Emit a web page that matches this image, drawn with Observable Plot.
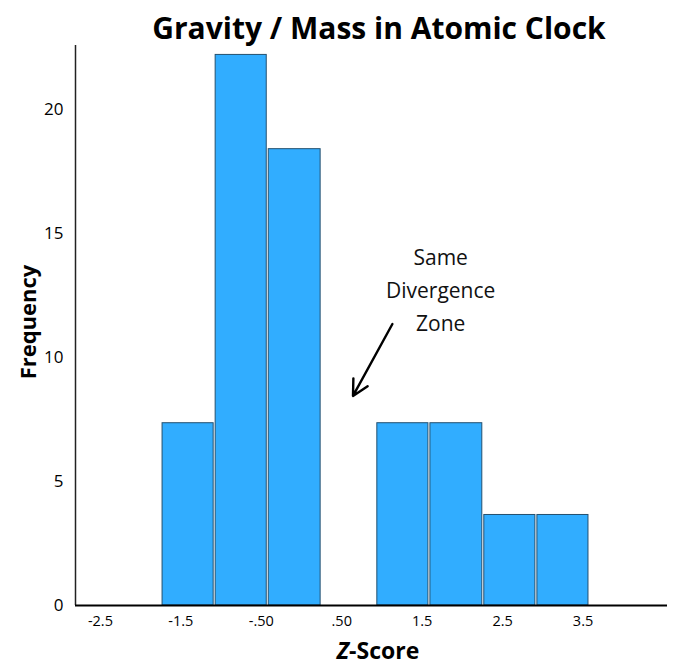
<!DOCTYPE html>
<html>
<head>
<meta charset="utf-8">
<script src="https://cdn.jsdelivr.net/npm/d3@7"></script>
<script src="https://cdn.jsdelivr.net/npm/@observablehq/plot@0.6"></script>
<style>
  html, body { margin: 0; padding: 0; background: #fff; }
  #chart svg { display: block; overflow: visible; }
</style>
</head>
<body>
<div id="chart"></div>
<script>
// ---- data ----
const binStart = [-1.74, -1.08, -0.42, 0.93, 1.59, 2.26, 2.92];
const binEnd   = [-1.08, -0.42, 0.25, 1.59, 2.26, 2.92, 3.58];
const frequency = [7.35, 22.2, 18.4, 7.35, 7.35, 3.65, 3.65];

const xTickValues = [-2.5, -1.5, -0.5, 0.5, 1.5, 2.5, 3.5];
const xTickLabels = ["-2.5", "-1.5", "-.50", ".50", "1.5", "2.5", "3.5"];
const yTickValues = [0, 5, 10, 15, 20];

const xDomain = [-2.81, 4.55];
const yDomain = [0, 22.58];

const noteLines = ["Same", "Divergence", "Zone"];
const noteX = [1.73, 1.73, 1.73];
const noteY = [14.0, 12.68, 11.35];
const arrowFrom = {x: 1.13, y: 11.35};
const arrowTo = {x: 0.64, y: 8.45};

const titleText = "Gravity / Mass in Atomic Clock";
const yLabel = "Frequency";

// ---- build table ----
const bars = frequency.map((f, i) => ({x1: binStart[i], x2: binEnd[i], y: f}));
const notes = noteLines.map((t, i) => ({t, x: noteX[i], y: noteY[i]}));

const fontStack = "'Open Sans', 'Noto Sans', sans-serif";

const chart = Plot.plot({
  width: 687,
  height: 666,
  marginLeft: 75,
  marginRight: 20,
  marginTop: 45,
  marginBottom: 61,
  style: {fontFamily: fontStack, fontSize: "14px", color: "#000", background: "#fff"},
  x: {type: "linear", domain: xDomain},
  y: {domain: yDomain},
  marks: [
    Plot.rectY(bars, {
      x1: "x1", x2: "x2", y: "y",
      fill: "#31adff", stroke: "#24506f", strokeWidth: 1,
      insetLeft: 1, insetRight: 1
    }),
    Plot.ruleX([xDomain[0]], {stroke: "#222", strokeWidth: 1.5}),
    Plot.ruleY([0], {stroke: "#000", strokeWidth: 2}),
    Plot.axisX(xTickValues, {
      tickSize: 0, tickPadding: 10,
      tickFormat: (d) => xTickLabels[xTickValues.indexOf(d)],
      label: null, fontSize: 14.5
    }),
    Plot.axisY(yTickValues, {
      tickSize: 0, tickPadding: 12, label: null, fontSize: 17
    }),
    Plot.text(notes, {x: "x", y: "y", text: "t", fontSize: 21, fill: "#111"}),
    Plot.arrow([{x1: arrowFrom.x, y1: arrowFrom.y, x2: arrowTo.x, y2: arrowTo.y}], {
      x1: "x1", y1: "y1", x2: "x2", y2: "y2",
      stroke: "#000", strokeWidth: 2.4, headLength: 11, headAngle: 55
    })
  ]
});

document.getElementById("chart").appendChild(chart);

// titles and axis labels as real text
const svg = d3.select(chart);
svg.append("text")
  .attr("x", 379).attr("y", 39)
  .attr("text-anchor", "middle")
  .attr("font-family", fontStack)
  .attr("font-weight", "bold")
  .attr("font-size", 30)
  .attr("fill", "#000")
  .text(titleText);

svg.append("text")
  .attr("transform", "translate(36,322) rotate(-90)")
  .attr("text-anchor", "middle")
  .attr("font-family", fontStack)
  .attr("font-weight", "bold")
  .attr("font-size", 22)
  .attr("fill", "#000")
  .text(yLabel);

const xl = svg.append("text")
  .attr("x", 378).attr("y", 659)
  .attr("text-anchor", "middle")
  .attr("font-family", fontStack)
  .attr("font-weight", "bold")
  .attr("font-size", 23)
  .attr("fill", "#000");
xl.append("tspan").attr("font-style", "italic").text("Z");
xl.append("tspan").text("-Score");
</script>
</body>
</html>
